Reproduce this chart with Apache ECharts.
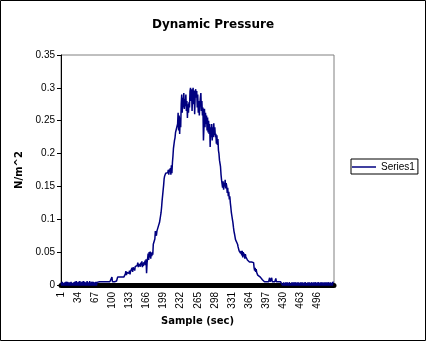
<!DOCTYPE html>
<html>
<head>
<meta charset="utf-8">
<script src="https://cdn.jsdelivr.net/npm/echarts@6/dist/echarts.min.js"></script>
<style>
  html, body { margin: 0; padding: 0; background: #fff; }
  #chart { width: 426px; height: 341px; }
</style>
</head>
<body>
<div id="chart"></div>
<script>
// Dynamic pressure readings, one value per sample (N/m^2)
const sampleCount = 528;
const xTickLabels = [1, 34, 67, 100, 133, 166, 199, 232, 265, 298, 331, 364, 397, 430, 463, 496];
const yTickLabels = [0, 0.05, 0.1, 0.15, 0.2, 0.25, 0.3, 0.35];

// samples 1-100: quiet start
const quietStart = [
  0.004,-0.002,0.005,-0.003,0.003,0.005,-0.002,0.004,-0.003,0.005,0.002,-0.003,
  0.005,-0.002,0.004,0.006,-0.003,0.004,-0.002,0.005,-0.003,0.003,0.006,-0.002,
  0.004,-0.003,0.005,0.002,-0.003,0.006,-0.002,0.004,-0.003,0.005,0.004,-0.002,
  0.006,-0.003,0.004,-0.002,0.005,0.003,-0.003,0.006,-0.002,0.005,-0.003,0.004,
  0.005,-0.002,0.006,-0.003,0.004,0.005,-0.002,0.006,-0.003,0.004,-0.002,0.005,
  0.006,-0.003,0.005,-0.002,0.004,0.006,-0.003,0.005,-0.002,0.004,0.005,0.004,
  0.005,0.005,0.005,0.005,0.005,0.005,0.005,0.005,0.005,0.005,0.005,0.005,0.005,0.005,
  0.005,0.005,0.005,0.005,0.005,0.005,0.005,0.005,0.005,0.005,0.005,0.005,0.012,0.005
];

// samples 101-216: build-up
const riseValues = [
  0.005,0.005,0.006,0.005,0.005,0.006,0.005,0.006,
  0.009,0.012,
  0.012,0.012,0.013,0.012,0.012,0.012,0.013,0.012,0.012,0.012,0.013,0.012,0.012,0.013,
  0.017,0.021,0.015,0.019,0.022,0.016,0.02,0.018,0.022,0.016,0.021,0.019,
  0.023,0.026,0.02,0.027,0.024,0.029,0.022,0.028,0.026,0.031,0.025,0.03,0.034,0.027,0.032,0.029,0.033,
  0.028,0.034,0.03,0.036,0.027,0.033,0.029,0.035,0.031,0.037,0.03,0.039,0.018,0.034,
  0.04,0.048,0.038,0.05,0.042,0.051,0.04,0.049,0.044,0.05,0.046,
  0.062,0.063,0.062,0.07,
  0.082,0.08,0.075,0.082,0.083,0.085,
  0.09,0.092,0.095,0.1,0.105,0.11,
  0.118,0.128,0.136,0.144,0.152,
  0.162,0.166,
  0.167,0.17,0.172,0.169,0.173,0.171,0.175,0.168,0.176,0.172,
  0.178,0.168,0.182,0.17,0.186
];

// samples 217-311: peak
const peakValues = [
  0.196,0.208,0.214,0.22,
  0.224,0.232,0.231,0.234,0.233,0.245,
  0.262,0.235,0.258,0.23,0.255,0.24,
  0.275,0.29,0.262,0.285,0.27,0.292,0.268,0.283,0.272,0.29,
  0.265,0.28,0.254,0.275,0.262,0.278,0.27,
  0.295,0.3,0.28,0.298,0.265,0.29,0.3,0.275,0.296,0.26,0.288,0.298,
  0.285,0.295,0.27,0.29,0.262,0.28,0.258,0.275,
  0.285,0.292,0.265,0.28,0.258,0.27,
  0.22,0.24,
  0.268,0.24,0.262,0.245,0.258,0.235,
  0.255,0.232,0.25,0.23,0.245,0.21,0.24,0.225,
  0.245,0.22,0.24,0.225,0.246,0.228,0.24,
  0.225,0.23,0.215,0.228,0.213,0.222,
  0.205,0.2,0.19,0.19,
  0.18,0.168,0.16
];

// samples 312-427: decay
const fallValues = [
  0.16,0.148,0.158,0.145,0.155,0.15,0.16,0.147,0.155,0.15,
  0.14,0.148,0.135,0.142,0.13,0.135,
  0.125,0.118,0.11,0.105,0.1,0.095,
  0.088,0.082,0.078,0.075,
  0.069,0.068,0.068,0.067,0.062,0.058,
  0.055,0.052,0.05,0.05,0.048,0.052,
  0.045,0.052,0.042,0.05,0.044,0.048,0.04,0.047,0.043,
  0.04,0.042,0.038,0.04,0.037,0.036,0.035,0.035,
  0.035,0.035,0.035,0.034,0.035,0.035,0.034,
  0.026,0.022,0.026,0.02,0.024,0.019,
  0.018,0.015,0.012,0.012,
  0.012,0.012,0.012,0.011,0.012,0.011,
  0.008,0.011,0.006,0.01,0.005,0.007,
  0.005,0.005,0.005,0.006,0.005,0.005,0.005,0.005,0.011,0.005,0.005,0.005,
  0.011,0.005,0.005,0.006,0.005,0.005,0.005,0.005,0.01,0.005,0.005,
  0.005,0.005,0.005,0.005,0.005,0.005,0.005,0.005,0.005
];

// samples 428-528: quiet end
const quietEnd = [
  0.004,0.004,-0.002,0.004,0.004,0.004,-0.003,0.004,0.003,-0.002,0.004,0.004,
  0.004,-0.003,0.004,0.004,0.001,0.004,-0.003,0.004,0.004,-0.002,0.004,0.003,
  -0.003,0.004,0.004,0.004,-0.002,0.004,0.004,-0.003,0.004,0.002,0.004,-0.003,
  0.004,0.004,-0.002,0.004,0.004,0.004,-0.003,0.004,-0.002,0.004,0.004,0.003,
  0.004,-0.003,0.004,0.004,-0.002,0.004,0.001,0.004,-0.003,0.004,0.004,0.004,
  -0.002,0.004,0.004,-0.003,0.004,0.004,0.004,-0.002,0.004,-0.003,0.004,0.004,
  0.004,-0.002,0.004,0.004,-0.003,0.004,0.002,0.004,-0.002,0.004,0.004,-0.003,
  0.004,0.004,-0.002,0.004,0.004,-0.003,0.004,0.004,0.003,-0.002,0.004,0.004,
  0.004,-0.003,0.004,0.004,0.004
];

const series1 = quietStart.concat(riseValues, peakValues, fallValues, quietEnd);

const samples = [];
for (let i = 1; i <= sampleCount; i++) samples.push(String(i));
const shownLabels = new Set(xTickLabels.map(String));

const labelFont = '"Liberation Sans", Arial, sans-serif';
const boldFont = '"DejaVu Sans", sans-serif';

const chart = echarts.init(document.getElementById('chart'), null, { renderer: 'canvas' });
chart.setOption({
  animation: false,
  backgroundColor: '#ffffff',
  title: {
    text: 'Dynamic Pressure',
    left: 'center',
    top: 14,
    textStyle: { fontFamily: boldFont, fontSize: 12, fontWeight: 'bold', color: '#000' }
  },
  graphic: [{
    type: 'rect',
    shape: { x: 0.5, y: 0.5, width: 425, height: 340 },
    style: { fill: null, stroke: '#000', lineWidth: 1 },
    silent: true
  }],
  legend: {
    data: [{ name: 'Series1', icon: 'rect' }],
    left: 351,
    top: 159,
    orient: 'vertical',
    padding: [3, 3, 2, 1],
    borderColor: '#000',
    borderWidth: 1,
    borderRadius: 0,
    itemWidth: 24,
    itemHeight: 1.5,
    itemStyle: { color: '#000080', borderWidth: 0 },
    lineStyle: { width: 0 },
    textStyle: { fontFamily: labelFont, fontSize: 10, color: '#000' }
  },
  grid: {
    left: 61, right: 92, top: 55, bottom: 56,
    show: true, borderColor: '#808080', borderWidth: 1, backgroundColor: '#fff'
  },
  xAxis: {
    type: 'category',
    data: samples,
    boundaryGap: true,
    name: 'Sample (sec)',
    nameLocation: 'middle',
    nameGap: 31,
    nameTextStyle: { fontFamily: boldFont, fontSize: 10, fontWeight: 'bold', color: '#000' },
    axisLine: { lineStyle: { color: '#000', width: 5 } },
    axisTick: { show: false },
    axisLabel: {
      interval: (idx, val) => shownLabels.has(val),
      rotate: 90,
      margin: 7,
      fontFamily: labelFont,
      fontSize: 10,
      color: '#000'
    },
    splitLine: { show: false }
  },
  yAxis: {
    type: 'value',
    min: 0,
    max: 0.35,
    interval: 0.05,
    name: 'N/m^2',
    nameLocation: 'middle',
    nameGap: 35,
    nameRotate: 90,
    nameTextStyle: { fontFamily: boldFont, fontSize: 10, fontWeight: 'bold', color: '#000' },
    axisLine: { show: true, lineStyle: { color: '#000', width: 1 } },
    axisTick: { show: true, length: 4, lineStyle: { color: '#000' } },
    axisLabel: {
      margin: 6,
      fontFamily: labelFont,
      fontSize: 10,
      color: '#000',
      formatter: v => {
        const hit = yTickLabels.find(t => Math.abs(t - v) < 1e-9);
        return hit === undefined ? '' : String(hit);
      }
    },
    splitLine: { show: false }
  },
  series: [{
    name: 'Series1',
    type: 'line',
    data: series1,
    symbol: 'none',
    lineStyle: { color: '#000080', width: 1.5 },
    itemStyle: { color: '#000080' },
    z: 3
  }]
});
</script>
</body>
</html>
